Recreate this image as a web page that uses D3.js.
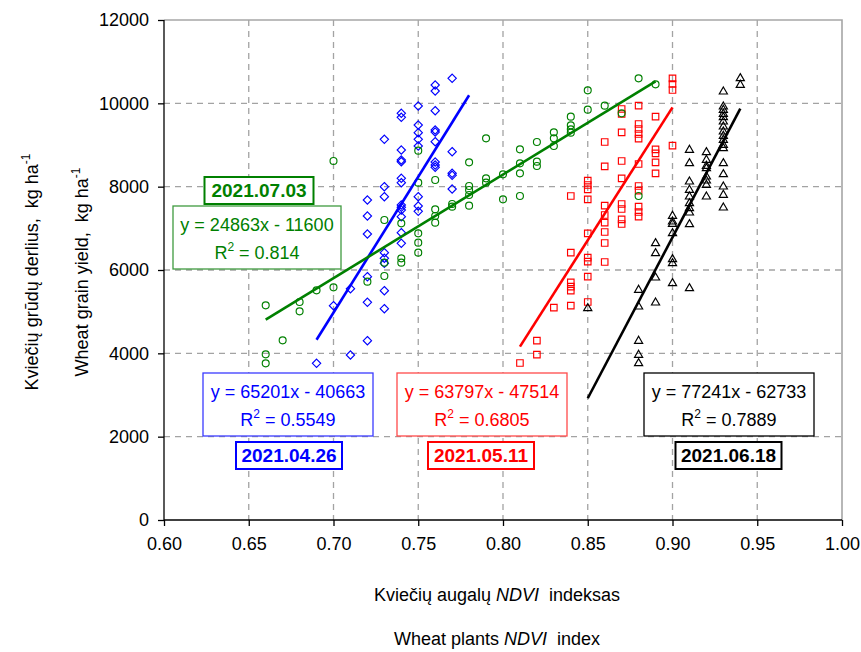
<!DOCTYPE html>
<html>
<head>
<meta charset="utf-8">
<script src="https://cdn.jsdelivr.net/npm/d3@7"></script>
<style>
  html, body { margin: 0; padding: 0; background: #fff; }
  svg { display: block; font-family: "Liberation Sans", Arial, sans-serif; }
</style>
</head>
<body>
<svg id="chart" width="861" height="652"></svg>
<script>
// NDVI vs wheat grain yield, four measurement dates

// 2021.04.26 — [NDVI, yield kg/ha]
const pointsApr26 = [
  [0.69,3760],[0.70,5144],[0.71,5552],[0.71,3960],
  [0.72,7680],[0.72,7296],[0.72,6864],[0.72,5840],[0.72,5224],[0.72,4304],
  [0.73,9136],[0.73,8000],[0.73,7760],[0.73,6416],[0.73,6280],[0.73,6160],[0.73,5504],[0.73,5072],
  [0.74,9760],[0.74,9664],[0.74,8880],[0.74,8640],[0.74,8600],[0.74,8200],[0.74,8096],[0.74,7560],
  [0.74,7504],[0.74,7440],[0.74,7280],[0.74,6896],[0.74,6640],
  [0.75,9936],[0.75,9480],[0.75,9296],[0.75,9136],[0.75,8976],[0.75,7760],[0.75,7536],[0.75,7408],
  [0.76,10440],[0.76,10296],[0.76,9824],[0.76,9360],[0.76,9312],[0.76,9080],[0.76,8592],[0.76,8520],[0.76,8464],
  [0.77,10600],[0.77,8840],[0.77,8320],[0.77,8272],[0.77,7944]
];

// 2021.05.11
const pointsMay11 = [
  [0.81,3768],[0.82,4304],[0.82,3968],[0.83,5096],
  [0.84,7776],[0.84,6416],[0.84,5704],[0.84,5600],[0.84,5504],[0.84,5144],
  [0.85,8144],[0.85,8040],[0.85,7936],[0.85,7696],[0.85,6880],[0.85,6296],[0.85,6200],[0.85,5840],[0.85,5232],
  [0.86,9072],[0.86,8488],[0.86,7544],[0.86,7320],[0.86,7136],[0.86,6912],[0.86,6648],[0.86,6192],
  [0.87,9864],[0.87,9744],[0.87,9304],[0.87,8616],[0.87,8200],[0.87,7584],[0.87,7464],[0.87,7216],[0.87,7104],
  [0.88,9944],[0.88,9504],[0.88,9384],[0.88,9264],[0.88,9152],[0.88,8544],[0.88,8016],[0.88,7904],
  [0.88,7520],[0.88,7392],[0.88,7280],
  [0.89,9680],[0.89,8896],[0.89,8800],[0.89,8584],[0.89,8320],
  [0.90,10600],[0.90,10464],[0.90,10320],[0.90,8984]
];

// 2021.06.18
const pointsJun18 = [
  [0.85,5080],
  [0.88,5520],[0.88,5120],[0.88,4296],[0.88,3960],[0.88,3760],
  [0.89,6640],[0.89,6400],[0.89,5816],[0.89,5216],
  [0.90,7296],[0.90,7160],[0.90,7104],[0.90,6880],[0.90,6256],[0.90,6160],[0.90,5680],
  [0.91,8880],[0.91,8560],[0.91,8120],[0.91,7920],[0.91,7760],[0.91,7600],[0.91,7480],[0.91,7376],[0.91,7096],[0.91,5560],
  [0.92,8824],[0.92,8640],[0.92,8496],[0.92,8440],[0.92,8240],[0.92,8144],[0.92,8040],[0.92,7760],
  [0.93,10280],[0.93,9920],[0.93,9840],[0.93,9744],[0.93,9664],[0.93,9560],[0.93,9440],[0.93,9320],
  [0.93,9216],[0.93,9120],[0.93,9000],[0.93,8920],[0.93,8560],[0.93,8296],[0.93,8000],[0.93,7800],[0.93,7496],
  [0.94,10600],[0.94,10440]
];

// 2021.07.03
const pointsJul03 = [
  [0.66,5152],[0.66,3976],[0.66,3760],[0.67,4312],[0.68,5232],[0.68,5008],[0.69,5512],
  [0.70,8616],[0.70,5584],[0.72,5720],
  [0.73,7200],[0.73,5856],[0.73,6176],
  [0.74,7120],[0.74,6280],[0.74,6176],
  [0.75,8864],[0.75,8096],[0.75,6880],[0.75,6656],[0.75,6416],
  [0.76,8160],[0.76,7456],[0.76,7296],[0.76,7136],
  [0.77,7584],[0.77,7520],
  [0.78,8584],[0.78,8016],[0.78,7920],[0.78,7800],[0.78,7544],
  [0.79,9160],[0.79,8200],[0.79,8096],
  [0.80,8296],[0.80,7696],
  [0.81,8896],[0.81,8560],[0.81,8320],[0.81,7776],
  [0.82,9072],[0.82,8600],[0.82,8496],
  [0.83,9304],[0.83,9160],[0.83,8976],
  [0.84,9680],[0.84,9472],[0.84,9376],[0.84,9296],
  [0.85,10312],[0.85,9848],[0.86,9944],[0.87,9760],[0.88,10600],[0.88,7776],[0.89,10456]
];

// Linear fits: slope, intercept, R², fitted NDVI range
const dateLabels = ["2021.04.26", "2021.05.11", "2021.06.18", "2021.07.03"];
const fitSlopes = [65201, 63797, 77241, 24863];
const fitIntercepts = [-40663, -47514, -62733, -11600];
const fitR2 = ["0.5549", "0.6805", "0.7889", "0.814"];
const fitRanges = [[0.69, 0.78], [0.81, 0.90], [0.85, 0.94], [0.66, 0.89]];

// Axis ticks
const xTicks = [0.60, 0.65, 0.70, 0.75, 0.80, 0.85, 0.90, 0.95, 1.00];
const yTicks = [0, 2000, 4000, 6000, 8000, 10000, 12000];

const seriesPoints = [pointsApr26, pointsMay11, pointsJun18, pointsJul03];
const colors = ["#0000ff", "#ff0000", "#000000", "#008000"];
const boxStroke = ["#3b3bff", "#ff4a4a", "#000000", "#3f9a3f"];
const symbols = [d3.symbolDiamond2, d3.symbolSquare2, d3.symbolTriangle2, d3.symbolCircle];
const symbolSizes = [44, 54, 48, 38];

const svg = d3.select("#chart");
const L = 164, R = 842, T = 20, B = 520;

const x = d3.scaleLinear().domain([0.6, 1.0]).range([L, R]);
const y = d3.scaleLinear().domain([0, 12000]).range([B, T]);

// grid
const grid = svg.append("g").attr("stroke", "#a3a3a3").attr("stroke-width", 1.3)
  .attr("stroke-dasharray", "6,5").attr("fill", "none");
grid.selectAll(".gx").data(xTicks.slice(1, -1)).join("line")
  .attr("x1", d => x(d)).attr("x2", d => x(d)).attr("y1", T).attr("y2", B);
grid.selectAll(".gy").data(yTicks.slice(1, -1)).join("line")
  .attr("y1", d => y(d)).attr("y2", d => y(d)).attr("x1", L).attr("x2", R);

// plot frame top/right
svg.append("path").attr("d", `M${L},${T}H${R}V${B}`)
  .attr("fill", "none").attr("stroke", "#a6a6a6").attr("stroke-width", 1.6);

// axes
const xAxis = d3.axisBottom(x).tickValues(xTicks).tickFormat(d3.format(".2f")).tickSize(6).tickPadding(11);
const yAxis = d3.axisLeft(y).tickValues(yTicks).tickFormat(d => d).tickSize(6).tickPadding(9);

const gx = svg.append("g").attr("transform", `translate(0,${B})`).call(xAxis);
const gy = svg.append("g").attr("transform", `translate(${L},0)`).call(yAxis);
[gx, gy].forEach(g => {
  g.select(".domain").attr("stroke", "#000").attr("stroke-width", 1.3);
  g.selectAll(".tick line").attr("stroke", "#000").attr("stroke-width", 1.3);
  g.selectAll(".tick text").attr("fill", "#000")
    .style("font-family", "'Liberation Sans', Arial, sans-serif").style("font-size", "18px");
});
gy.select(".domain").attr("d", `M0,${B}V${T}`);
gx.select(".domain").attr("d", `M${L},0H${R}`);

// scatter points
seriesPoints.forEach((pts, i) => {
  svg.append("g").selectAll("path").data(pts).join("path")
    .attr("transform", d => `translate(${x(d[0])},${y(d[1])})`)
    .attr("d", d3.symbol().type(symbols[i]).size(symbolSizes[i]))
    .attr("fill", "none").attr("stroke", colors[i]).attr("stroke-width", 1.15);
});

// regression lines from the stated equations
const line = d3.line().x(d => x(d[0])).y(d => y(d[1]));
fitRanges.forEach((rng, i) => {
  const pts = rng.map(v => [v, fitSlopes[i] * v + fitIntercepts[i]]);
  svg.append("path").attr("d", line(pts))
    .attr("fill", "none").attr("stroke", colors[i]).attr("stroke-width", 2.6);
});

// equation and date boxes
const eqBoxes = [
  { cx: 288, top: 373, w: 170, h: 63 },
  { cx: 482, top: 373, w: 170, h: 63 },
  { cx: 729, top: 373, w: 170, h: 63 },
  { cx: 257, top: 206, w: 168, h: 63 }
];
const dateBoxes = [
  { cx: 289, top: 442, w: 106, h: 27 },
  { cx: 481, top: 442, w: 106, h: 27 },
  { cx: 728.5, top: 442, w: 106, h: 27 },
  { cx: 259, top: 177, w: 109, h: 27 }
];

const fmtEq = (a, b) => `y = ${a}x - ${Math.abs(b)}`;

eqBoxes.forEach((bx, i) => {
  const g = svg.append("g");
  g.append("rect").attr("x", bx.cx - bx.w / 2).attr("y", bx.top).attr("width", bx.w).attr("height", bx.h)
    .attr("fill", "#fff").attr("stroke", boxStroke[i]).attr("stroke-width", 1.3);
  g.append("text").attr("x", bx.cx).attr("y", bx.top + 25).attr("text-anchor", "middle")
    .attr("fill", colors[i]).style("font-size", "18px")
    .text(fmtEq(fitSlopes[i], fitIntercepts[i]));
  const t = g.append("text").attr("x", bx.cx).attr("y", bx.top + 53).attr("text-anchor", "middle")
    .attr("fill", colors[i]).style("font-size", "18px");
  t.append("tspan").text("R");
  t.append("tspan").attr("dy", -8).style("font-size", "12px").text("2");
  t.append("tspan").attr("dy", 8).text(" = " + fitR2[i]);
});

dateBoxes.forEach((bx, i) => {
  const g = svg.append("g");
  g.append("rect").attr("x", bx.cx - bx.w / 2).attr("y", bx.top).attr("width", bx.w).attr("height", bx.h)
    .attr("fill", "#fff").attr("stroke", colors[i]).attr("stroke-width", 2);
  g.append("text").attr("x", bx.cx).attr("y", bx.top + 20).attr("text-anchor", "middle")
    .attr("fill", colors[i]).style("font-size", "19px").style("font-weight", "bold")
    .text(dateLabels[i]);
});

// axis titles
const xt1 = svg.append("text").attr("x", 497).attr("y", 601).attr("text-anchor", "middle")
  .style("font-size", "18px").attr("fill", "#000");
xt1.append("tspan").text("Kviečių augalų ");
xt1.append("tspan").style("font-style", "italic").text("NDVI");
xt1.append("tspan").text("\u00a0 indeksas");

const xt2 = svg.append("text").attr("x", 497).attr("y", 645).attr("text-anchor", "middle")
  .style("font-size", "18px").attr("fill", "#000");
xt2.append("tspan").text("Wheat plants ");
xt2.append("tspan").style("font-style", "italic").text("NDVI");
xt2.append("tspan").text("\u00a0 index");

function yTitle(xPos, label) {
  const t = svg.append("text").attr("transform", `translate(${xPos},272) rotate(-90)`)
    .attr("text-anchor", "middle").style("font-size", "18px").attr("fill", "#000");
  t.append("tspan").text(label + ",\u00a0 kg ha");
  t.append("tspan").attr("dy", -8).style("font-size", "12px").text("-1");
}
yTitle(38, "Kviečių grūdų derlius");
yTitle(88, "Wheat grain yield");
</script>
</body>
</html>
